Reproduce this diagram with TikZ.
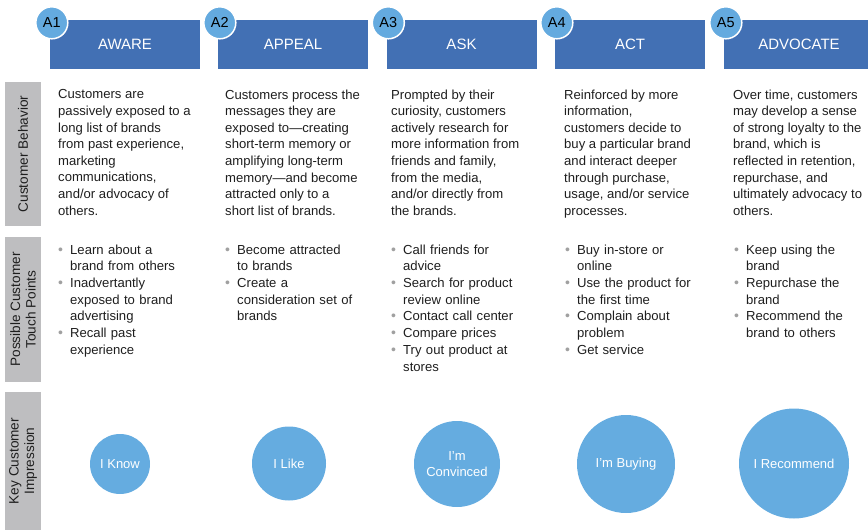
\documentclass[tikz,border=0pt]{standalone}
\usepackage{fontspec}
\setmainfont{Liberation Sans}
\usetikzlibrary{positioning}
\definecolor{stagecolor}{RGB}{66,112,180}
\definecolor{badgecolor}{RGB}{100,170,223}
\definecolor{impresscolor}{RGB}{101,172,224}
\definecolor{rowcolor}{RGB}{190,190,192}
\definecolor{bulletcolor}{RGB}{160,160,160}
\definecolor{textcolor}{RGB}{30,30,30}
\newcommand{\tpitem}[1]{\noindent\hangindent=12pt\hangafter=1\makebox[12pt][l]{\textcolor{bulletcolor}{\fontsize{14}{14}\selectfont\textbullet}}#1\par}

\begin{document}
\begin{tikzpicture}[
    x=1pt, y=-1pt,
    stage/.style={fill=stagecolor, text=white, minimum width=150pt, minimum height=49pt, inner sep=0pt, font=\fontsize{15}{18}\selectfont},
    badge/.style={circle, fill=badgecolor, draw=white, line width=1.5pt, minimum size=32pt, inner sep=0pt, font=\fontsize{14.5}{17}\selectfont},
    rowlabel/.style={fill=rowcolor, rotate=90, minimum height=36pt, inner sep=0pt, align=center, text=textcolor, font=\fontsize{13.6}{15.5}\selectfont},
    behavior/.style={anchor=north west, align=left, inner sep=0pt, text=textcolor, font=\fontsize{13.1}{16.6}\selectfont},
    touch/.style={anchor=north west, text width=160pt, align=left, inner sep=0pt, text=textcolor, font=\fontsize{13.1}{16.7}\selectfont},
    impression/.style={circle, fill=impresscolor, text=white, inner sep=0pt, align=center, font=\fontsize{13}{15.5}\selectfont}
]
    \useasboundingbox (0,0) rectangle (868,530);

    % Row labels
    \node[rowlabel, minimum width=144pt] (rowbeh) at (23,154) {Customer Behavior};
    \node[rowlabel, minimum width=145pt] (rowtouch) at (23,309.5) {Possible Customer\\Touch Points};
    \node[rowlabel, minimum width=138pt] (rowimp) at (23,461) {Key Customer\\Impression};

    % Stages
    \node[stage] (aware) at (125,44.5) {AWARE};
    \node[stage] (appeal) at (293,44.5) {APPEAL};
    \node[stage] (ask) at (461.5,44.5) {ASK};
    \node[stage] (act) at (630,44.5) {ACT};
    \node[stage] (advocate) at (799,44.5) {ADVOCATE};

    % Stage badges
    \node[badge] (a1) at ([shift={(2,3)}]aware.north west) {A1};
    \node[badge] (a2) at ([shift={(2,3)}]appeal.north west) {A2};
    \node[badge] (a3) at ([shift={(2,3)}]ask.north west) {A3};
    \node[badge] (a4) at ([shift={(2,3)}]act.north west) {A4};
    \node[badge] (a5) at ([shift={(2,3)}]advocate.north west) {A5};

    % Customer behavior
    \node[behavior] (behaware) at (58,89.5) {Customers are\\passively exposed to a\\long list of brands\\from past experience,\\marketing\\communications,\\and/or advocacy of\\others.};
    \node[behavior] (behappeal) at (225,89.5) {Customers process the\\messages they are\\exposed to—creating\\short-term memory or\\amplifying long-term\\memory—and become\\attracted only to a\\short list of brands.};
    \node[behavior] (behask) at (391,89.5) {Prompted by their\\curiosity, customers\\actively research for\\more information from\\friends and family,\\from the media,\\and/or directly from\\the brands.};
    \node[behavior] (behact) at (564,89.5) {Reinforced by more\\information,\\customers decide to\\buy a particular brand\\and interact deeper\\through purchase,\\usage, and/or service\\processes.};
    \node[behavior] (behadv) at (733,89.5) {Over time, customers\\may develop a sense\\of strong loyalty to the\\brand, which is\\reflected in retention,\\repurchase, and\\ultimately advocacy to\\others.};

    % Touch points
    \node[touch] (tpaware) at (58,244.5) {\tpitem{Learn about a\newline brand from others}\tpitem{Inadvertantly\newline exposed to brand\newline advertising}\tpitem{Recall past\newline experience}};
    \node[touch] (tpappeal) at (225,244.5) {\tpitem{Become attracted\newline to brands}\tpitem{Create a\newline consideration set of\newline brands}};
    \node[touch] (tpask) at (391,244.5) {\tpitem{Call friends for\newline advice}\tpitem{Search for product\newline review online}\tpitem{Contact call center}\tpitem{Compare prices}\tpitem{Try out product at\newline stores}};
    \node[touch] (tpact) at (565,244.5) {\tpitem{Buy in-store or\newline online}\tpitem{Use the product for\newline the first time}\tpitem{Complain about\newline problem}\tpitem{Get service}};
    \node[touch] (tpadv) at (734,244.5) {\tpitem{Keep using the\newline brand}\tpitem{Repurchase the\newline brand}\tpitem{Recommend the\newline brand to others}};

    % Key impressions
    \node[impression, minimum size=60pt] (know) at (120,464) {I Know};
    \node[impression, minimum size=74pt] (like) at (289,463.5) {I Like};
    \node[impression, minimum size=86pt] (convinced) at (457,464) {I’m\\Convinced};
    \node[impression, minimum size=98pt] (buying) at (626,464) {I’m Buying};
    \node[impression, minimum size=110pt] (recommend) at (794,463.5) {I Recommend};
\end{tikzpicture}
\end{document}
